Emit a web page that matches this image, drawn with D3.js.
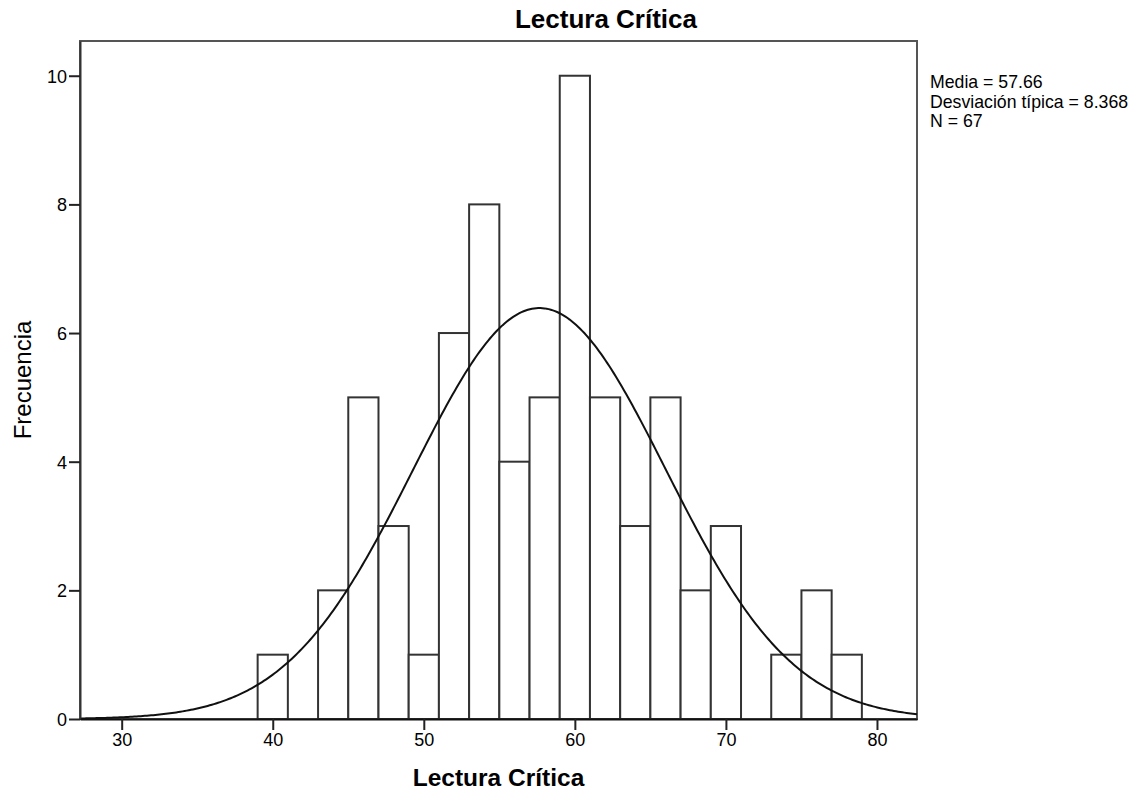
<!DOCTYPE html>
<head>
  <meta charset="utf-8">
  <script src="https://d3js.org/d3.v7.min.js"></script>
  <style>
    body { margin: 0; background: #fff; }
    svg text { font-family: "Liberation Sans", Arial, sans-serif; fill: #000; }
    .tick text { font-size: 18px; }
    .tick line { stroke: #222; stroke-width: 2; }
  </style>
</head>
<body>
<script>
  // bins of width 2, counts
  var binStarts = [39, 41, 43, 45, 47, 49, 51, 53, 55, 57, 59, 61, 63, 65, 67, 69, 71, 73, 75, 77];
  var binCounts = [1, 0, 2, 5, 3, 1, 6, 8, 4, 5, 10, 5, 3, 5, 2, 3, 0, 1, 2, 1];
  var binWidth = 2;

  var xTicks = [30, 40, 50, 60, 70, 80];
  var yTicks = [0, 2, 4, 6, 8, 10];

  // summary stats shown in the legend
  var media = 57.66, desv = 8.368, n = 67;
  var statLines = ["Media = 57.66", "Desviación típica = 8.368", "N = 67"];

  var titleText = "Lectura Crítica";
  var xAxisLabel = "Lectura Crítica";
  var yAxisLabel = "Frecuencia";

  var outerWidth = 1136, outerHeight = 792;
  var margin = { top: 41, left: 80, right: 219, bottom: 73 };
  var width = outerWidth - margin.left - margin.right,
    height = outerHeight - margin.top - margin.bottom;

  var xScale = d3.scaleLinear().domain([27.24, 82.65]).range([0, width]);
  var yScale = d3.scaleLinear().domain([0, 10.54]).range([height, 0]);

  var root = d3.select("body").append("svg")
    .attr("width", outerWidth)
    .attr("height", outerHeight);

  var svg = root.append("g")
    .attr("transform", "translate(" + margin.left + " " + margin.top + ")");

  // frame
  svg.append("rect")
    .attr("width", width)
    .attr("height", height)
    .attr("fill", "none")
    .attr("stroke", "#555")
    .attr("stroke-width", 2);

  // bars (empty bins are not drawn)
  var bins = binStarts.map(function(s, i) { return { x0: s, count: binCounts[i] }; })
    .filter(function(d) { return d.count > 0; });

  svg.selectAll("rect.bar")
    .data(bins)
    .enter().append("rect")
    .attr("class", "bar")
    .attr("x", function(d) { return xScale(d.x0); })
    .attr("width", function(d) { return xScale(d.x0 + binWidth) - xScale(d.x0); })
    .attr("y", function(d) { return yScale(d.count); })
    .attr("height", function(d) { return yScale(0) - yScale(d.count); })
    .attr("fill", "#fff")
    .attr("stroke", "#333")
    .attr("stroke-width", 2);

  // fitted normal curve from the stats above (scaled to counts per bin)
  var xs = d3.range(0, 401).map(function(i) {
    var d = xScale.domain();
    return d[0] + (d[1] - d[0]) * i / 400;
  });
  var curve = d3.line()
    .x(function(x) { return xScale(x); })
    .y(function(x) {
      var z = (x - media) / desv;
      return yScale(n * binWidth * Math.exp(-0.5 * z * z) / (desv * Math.sqrt(2 * Math.PI)));
    });
  svg.append("path")
    .datum(xs)
    .attr("d", curve)
    .attr("fill", "none")
    .attr("stroke", "#111")
    .attr("stroke-width", 2);

  // axes
  var yAxis = d3.axisLeft(yScale).tickValues(yTicks).tickSize(11).tickPadding(2).tickSizeOuter(0);
  var xAxis = d3.axisBottom(xScale).tickValues(xTicks).tickSize(11).tickPadding(3).tickSizeOuter(0);

  var yG = svg.append("g").call(yAxis);
  var xG = svg.append("g").attr("transform", "translate(0 " + height + ")").call(xAxis);
  yG.select(".domain").attr("stroke", "#333").attr("stroke-width", 2);
  xG.select(".domain").attr("stroke", "#111").attr("stroke-width", 2);
  yG.selectAll(".tick text").attr("dy", "0.35em");

  // titles
  root.append("text")
    .attr("x", 606)
    .attr("y", 28)
    .attr("text-anchor", "middle")
    .style("font-size", "26px")
    .style("font-weight", "bold")
    .text(titleText);

  root.append("text")
    .attr("x", margin.left + width / 2)
    .attr("y", 786)
    .attr("text-anchor", "middle")
    .style("font-size", "24.5px")
    .style("font-weight", "bold")
    .text(xAxisLabel);

  root.append("text")
    .attr("transform", "translate(31 " + (margin.top + height / 2) + ") rotate(-90)")
    .attr("text-anchor", "middle")
    .style("font-size", "24px")
    .text(yAxisLabel);

  // stats legend
  root.append("g").selectAll("text")
    .data(statLines)
    .enter().append("text")
    .attr("x", 930)
    .attr("y", function(d, i) { return 88 + i * 19.5; })
    .style("font-size", "17.7px")
    .text(function(d) { return d; });
</script>
</body>
